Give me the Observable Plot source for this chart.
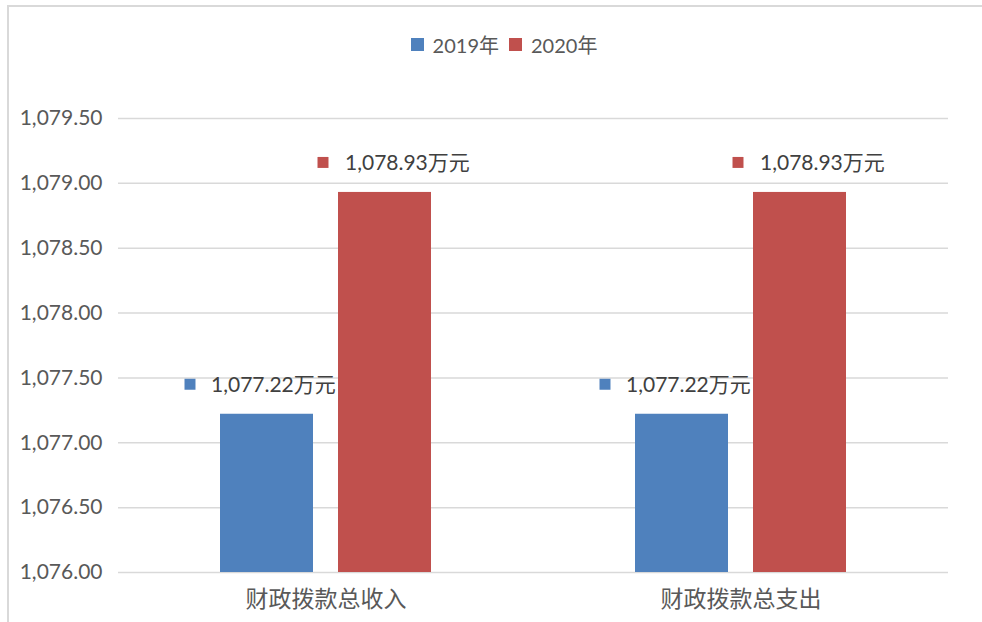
<!DOCTYPE html>
<html>
<head>
<meta charset="utf-8">
<script src="https://cdn.jsdelivr.net/npm/d3@7"></script>
<script src="https://cdn.jsdelivr.net/npm/@observablehq/plot@0.6"></script>
<style>
  html, body { margin: 0; padding: 0; background: #fff; }
  #wrap { position: relative; width: 982px; height: 622px; overflow: hidden; font-family: Lato, "Noto Sans CJK SC", sans-serif; }
  #frame { position: absolute; left: 7px; top: 5px; width: 1200px; height: 800px; border-left: 2px solid #d9d9d9; border-top: 2px solid #d9d9d9; box-sizing: border-box; }
  #legend { position: absolute; top: 30px; left: 0; width: 1008px; display: flex; justify-content: center; align-items: center; font-size: 20px; color: #595959; }
  #legend .item { display: flex; align-items: center; margin: 0 5px; }
  #legend .sw { width: 13px; height: 13px; margin-right: 9px; }
  #chart { position: absolute; left: 0; top: 0; }
  .c g[aria-label^="y-axis"] text { font-family: Lato, sans-serif; font-size: 21px; fill: #595959; }
  .c g[aria-label^="fx-axis"] text { font-family: "Noto Sans CJK SC", sans-serif; font-size: 23px; fill: #595959; }
</style>
</head>
<body>
<div id="wrap">
  <div id="frame"></div>
  <div id="chart"></div>
  <div id="legend"></div>
</div>
<script>
const categories = ["财政拨款总收入", "财政拨款总支出"];
const series = ["2019年", "2020年"];
const values2019 = [1077.22, 1077.22];
const values2020 = [1078.93, 1078.93];
const yTicks = [1076, 1076.5, 1077, 1077.5, 1078, 1078.5, 1079, 1079.5];
const unit = "万元";

const colors = {"2019年": "#4f81bd", "2020年": "#c0504d"};
const labelOffset = {"2019年": {sq: -77, tx: -56}, "2020年": {sq: -62, tx: -40}};

const seriesValues = [values2019, values2020];
const rows = [];
categories.forEach((c, i) => series.forEach((s, j) => rows.push({cat: c, ser: s, value: seriesValues[j][i]})));

const fmt = d3.format(",.2f");
const base = yTicks[0];

const labelMarks = series.flatMap(s => {
  const data = rows.filter(r => r.ser === s);
  return [
    Plot.dot(data, {fx: "cat", x: "ser", y: "value", symbol: "square", r: 6.2, fill: colors[s], stroke: "none", dx: labelOffset[s].sq, dy: -30}),
    Plot.text(data, {fx: "cat", x: "ser", y: "value", text: d => fmt(d.value) + unit, textAnchor: "start", dx: labelOffset[s].tx, dy: -29, fill: "#404040", fontSize: 21, fontFamily: "Lato, 'Noto Sans CJK SC', sans-serif"})
  ];
});

const chart = Plot.plot({
  className: "c",
  width: 982,
  height: 622,
  marginLeft: 117,
  marginRight: 34,
  marginTop: 118,
  marginBottom: 50,
  style: {background: "transparent", overflow: "visible"},
  fx: {domain: categories, padding: 0, axis: "bottom", tickSize: 0, tickPadding: 18, label: null},
  x: {domain: series, paddingInner: 0.21, paddingOuter: 0.85, axis: null},
  y: {domain: [yTicks[0], yTicks[yTicks.length - 1]], ticks: yTicks, tickFormat: fmt, tickSize: 0, tickPadding: 16, label: null},
  marks: [
    Plot.ruleY(yTicks, {stroke: "#d9d9d9", strokeWidth: 1.5}),
    Plot.barY(rows, {fx: "cat", x: "ser", y1: () => base, y2: "value", fill: d => colors[d.ser]}),
    ...labelMarks
  ]
});
document.getElementById("chart").appendChild(chart);

const legend = document.getElementById("legend");
series.forEach(s => {
  const item = document.createElement("div");
  item.className = "item";
  const sw = document.createElement("div");
  sw.className = "sw";
  sw.style.background = colors[s];
  const t = document.createElement("span");
  t.textContent = s;
  item.appendChild(sw);
  item.appendChild(t);
  legend.appendChild(item);
});
</script>
</body>
</html>
